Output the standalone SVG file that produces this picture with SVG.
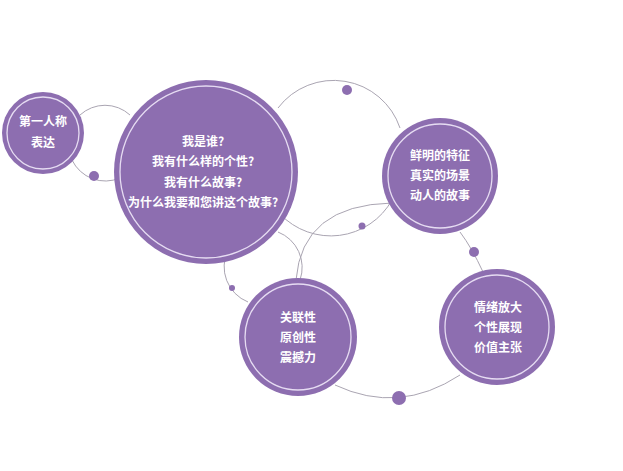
<svg xmlns="http://www.w3.org/2000/svg" width="623" height="471" viewBox="0 0 623 471">
<style>
.n{fill:#8d6eb0}
.r{fill:none;stroke:#e6dcf2;stroke-width:1.3}
.c{fill:none;stroke:#aaa5b2;stroke-width:1}
.d{fill:#8d6eb0}
text{font-family:"Noto Sans CJK SC","Liberation Sans",sans-serif;font-size:12px;font-weight:bold;fill:#fff;text-anchor:middle}
</style>
<rect width="623" height="471" fill="#fff"/>
<g id="connectors">
<path class="c" d="M80 115 A37 37 0 0 1 130 115"/>
<path class="c" d="M72 160 A37 37 0 0 0 120 178"/>
<path class="c" d="M278 108 A70 70 0 0 1 400 128"/>
<path class="c" d="M280 214 A70 70 0 0 0 392 200"/>
<path class="c" d="M278 232 A38 38 0 0 1 300 280"/>
<path class="c" d="M228 250 A38 38 0 0 0 248 302"/>
<path class="c" d="M296 280 Q302 205 392 203"/>
<path class="c" d="M460 232 Q472 248 483 272"/>
<path class="c" d="M335 385 Q399 415 460 375"/>
<circle class="d" cx="94" cy="176" r="5"/>
<circle class="d" cx="347" cy="90" r="5"/>
<circle class="d" cx="362" cy="226" r="3.5"/>
<circle class="d" cx="232" cy="288" r="3"/>
<circle class="d" cx="474" cy="252" r="5"/>
<circle class="d" cx="399" cy="398" r="7"/>
</g>
<g id="n1"><circle class="n" cx="43" cy="133" r="41"/><circle class="r" cx="43" cy="133" r="36"/>
<text x="43" y="126">第一人称</text><text x="43" y="147">表达</text></g>
<g id="n2"><circle class="n" cx="206" cy="172" r="92"/><circle class="r" cx="206" cy="172" r="86"/>
<text x="203" y="146">我是谁?</text><text x="203" y="166">我有什么样的个性?</text><text x="203" y="187">我有什么故事?</text><text x="203" y="207">为什么我要和您讲这个故事?</text></g>
<g id="n3"><circle class="n" cx="440" cy="176" r="58"/><circle class="r" cx="440" cy="176" r="52"/>
<text x="440" y="160">鲜明的特征</text><text x="440" y="180">真实的场景</text><text x="440" y="200">动人的故事</text></g>
<g id="n4"><circle class="n" cx="298" cy="337" r="59"/><circle class="r" cx="298" cy="337" r="53"/>
<text x="298" y="322">关联性</text><text x="298" y="342">原创性</text><text x="298" y="362">震撼力</text></g>
<g id="n5"><circle class="n" cx="497" cy="327" r="58"/><circle class="r" cx="497" cy="327" r="52"/>
<text x="498" y="312">情绪放大</text><text x="498" y="332">个性展现</text><text x="498" y="352">价值主张</text></g>
</svg>
